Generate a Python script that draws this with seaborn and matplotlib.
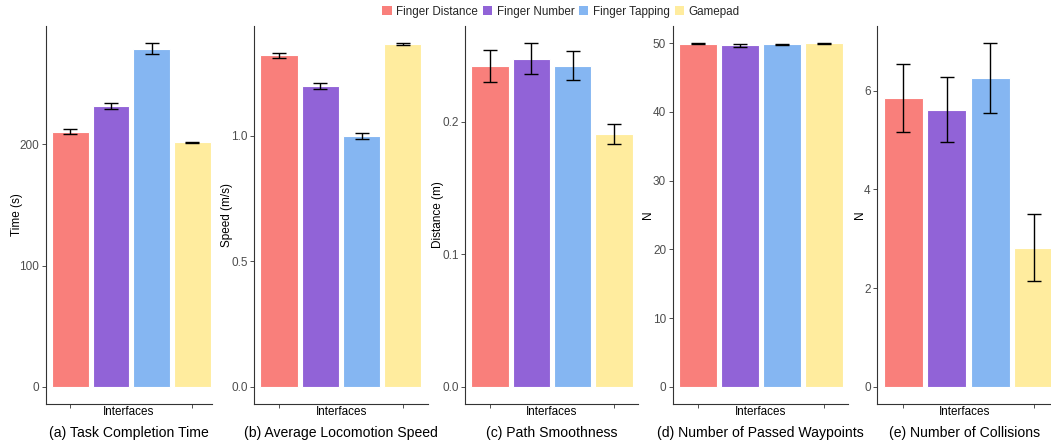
import matplotlib
matplotlib.use("Agg")
import matplotlib.pyplot as plt
import seaborn as sns
import pandas as pd
from matplotlib.patches import Patch

# ---------------- data ----------------
interfaces = ["Finger Distance", "Finger Number", "Finger Tapping", "Gamepad"]

time_mean = [210.5, 231.7, 279.0, 201.6]
time_se = [2.4, 2.2, 4.4, 0.6]

speed_mean = [1.319, 1.196, 0.999, 1.364]
speed_se = [0.011, 0.012, 0.013, 0.004]

smooth_mean = [0.2419, 0.2474, 0.2421, 0.1905]
smooth_se = [0.0117, 0.0117, 0.0108, 0.0075]

waypoints_mean = [49.95, 49.72, 49.88, 49.98]
waypoints_se = [0.05, 0.20, 0.08, 0.03]

collisions_mean = [5.85, 5.61, 6.25, 2.82]
collisions_se = [0.69, 0.66, 0.71, 0.68]

titles = ["(a) Task Completion Time", "(b) Average Locomotion Speed",
          "(c) Path Smoothness", "(d) Number of Passed Waypoints",
          "(e) Number of Collisions"]
ylabels = ["Time (s)", "Speed (m/s)", "Distance (m)", "N", "N"]
yticks = [[0, 100, 200], [0.0, 0.5, 1.0], [0.0, 0.1, 0.2],
          [0, 10, 20, 30, 40, 50], [0, 2, 4, 6]]
ytick_labels = [["0", "100", "200"], ["0.0", "0.5", "1.0"], ["0.0", "0.1", "0.2"],
                ["0", "10", "20", "30", "40", "50"], ["0", "2", "4", "6"]]
means = [time_mean, speed_mean, smooth_mean, waypoints_mean, collisions_mean]
ses = [time_se, speed_se, smooth_se, waypoints_se, collisions_se]

# ---------------- style ----------------
colors = ["#F97F7B", "#9163D7", "#85B6F2", "#FFEC9E"]
W, H = 1051, 445
lefts = [46, 254.3, 465.3, 672.7, 877.3]
rights = [212, 428, 638, 848, 1051]
ylabel_x = [17, 226.7, 438.3, 648.3, 860]
xright = [3.48, 3.61, 3.58, 3.56, 3.40]
ax_top, ax_bot = 26, 404

sns.set_style("white")
plt.rcParams["font.family"] = ["Liberation Sans", "DejaVu Sans"]

fig = plt.figure(figsize=(W / 100, H / 100), dpi=100)

for i in range(5):
    wpx = rights[i] - lefts[i]
    ax = fig.add_axes([lefts[i] / W, 1 - ax_bot / H,
                       wpx / W, (ax_bot - ax_top) / H])
    df = pd.DataFrame({"Interface": interfaces, "value": means[i]})
    sns.barplot(data=df, x="Interface", y="value", hue="Interface",
                order=interfaces, hue_order=interfaces, palette=colors,
                saturation=1, width=0.9, edgecolor="white", linewidth=0.8,
                errorbar=None, legend=False, ax=ax)
    ax.errorbar(interfaces, means[i], yerr=ses[i], fmt="none",
                ecolor="black", elinewidth=1.0, capsize=4.8, capthick=1.0,
                zorder=5)
    top = max(m + s for m, s in zip(means[i], ses[i]))
    ax.set_ylim(-0.05 * top, 1.05 * top)
    ax.set_xlim(-0.6, xright[i])
    ax.set_yticks(yticks[i])
    ax.set_yticklabels(ytick_labels[i])
    ax.set_xticks([0, 3])
    ax.set_xticklabels(["", ""])
    ax.tick_params(axis="both", length=2.75, width=0.6, color="#333333",
                   labelsize=8.5, labelcolor="#4D4D4D", pad=2)
    ax.tick_params(axis="y", left=True)
    ax.tick_params(axis="x", bottom=True)
    sns.despine(ax=ax)
    for sp in ("left", "bottom"):
        ax.spines[sp].set_color("#333333")
        ax.spines[sp].set_linewidth(0.8)
    ax.set_ylabel(ylabels[i], fontsize=8.5, color="black")
    ax.yaxis.set_label_coords((ylabel_x[i] - lefts[i]) / wpx, 0.5)
    ax.yaxis.label.set_va("center")
    ax.set_xlabel("Interfaces", fontsize=8.4, color="black")
    ax.xaxis.set_label_coords(0.5, -0.021)
    ax.xaxis.label.set_va("center")
    ax.text(0.5, (ax_bot - 433) / (ax_bot - ax_top), titles[i],
            transform=ax.transAxes, ha="center", va="center",
            fontsize=10.1, color="black")

handles = [Patch(facecolor=c, edgecolor="none", label=n)
           for c, n in zip(colors, interfaces)]
fig.legend(handles=handles, loc="center", bbox_to_anchor=(561 / W, 1 - 12 / H),
           ncol=4, frameon=False, fontsize=8.4, handlelength=0.8,
           handleheight=0.8, handletextpad=0.4, columnspacing=0.4,
           borderpad=0, borderaxespad=0)

fig.savefig("out.png", dpi=100)
